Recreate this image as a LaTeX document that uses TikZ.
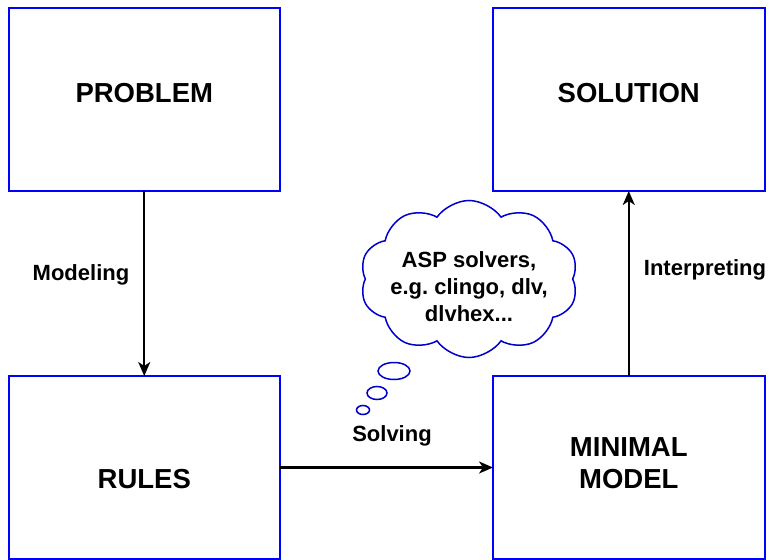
\documentclass[tikz,border=0pt]{standalone}
\usepackage{fontspec}
\setmainfont{Liberation Sans}
\usetikzlibrary{arrows.meta, positioning, shapes.symbols, shapes.geometric}

\definecolor{boxblue}{RGB}{0,0,255}
\definecolor{cloudblue}{RGB}{0,0,204}

\begin{document}
\frenchspacing
\begin{tikzpicture}[
  x=1pt, y=-1pt,
  node distance=185pt and 213pt,
  block/.style={draw=boxblue, line width=2pt, rectangle, align=center, outer sep=0pt,
    minimum width=271.5pt, minimum height=183pt, font=\fontsize{27.5}{32}\selectfont\bfseries},
  lbl/.style={align=center, font=\fontsize{22}{27}\selectfont\bfseries},
  bubble/.style={draw=cloudblue, line width=1.5pt, ellipse, inner sep=0pt},
  arrow/.style={-{Stealth[length=14pt, width=12pt, inset=4pt]}, line width=2.2pt}
]
\useasboundingbox (0,0) rectangle (770,559);

% Boxes
\node[block, text depth=13pt] (problem) at (144.25,99.5) {PROBLEM};
\node[block, text height=43pt] (rules) [below=of problem] {RULES};
\node[block, text depth=13pt] (solution) [right=of problem] {SOLUTION};
\node[block, text depth=8pt] (minimal) [below=of solution] {MINIMAL\\MODEL};

% Arrows
\draw[arrow] (problem) -- (rules);
\draw[arrow] (rules) -- (minimal);
\draw[arrow] (minimal) -- (solution);

% Labels
\node[lbl] (modeling) at (81,275) {Modeling};
\node[lbl] (solving) at (392,436) {Solving};
\node[lbl] (interpreting) at (705,270) {Interpreting};

% Thought cloud
\node[cloud, cloud puffs=10, cloud puff arc=110, draw=cloudblue, line width=1.5pt,
  inner sep=0pt, minimum width=218pt, minimum height=157pt,
  label={[lbl, yshift=-8pt]center:ASP solvers,\\e.g. clingo, dlv,\\dlvhex...}] (solvers) at (469,279) {};
\node[bubble, minimum width=32pt, minimum height=17pt] (bubA) at (394,371) {};
\node[bubble, minimum width=20pt, minimum height=13pt] (bubB) at (377,393) {};
\node[bubble, minimum width=13pt, minimum height=9pt] (bubC) at (363,410) {};

\end{tikzpicture}
\end{document}
